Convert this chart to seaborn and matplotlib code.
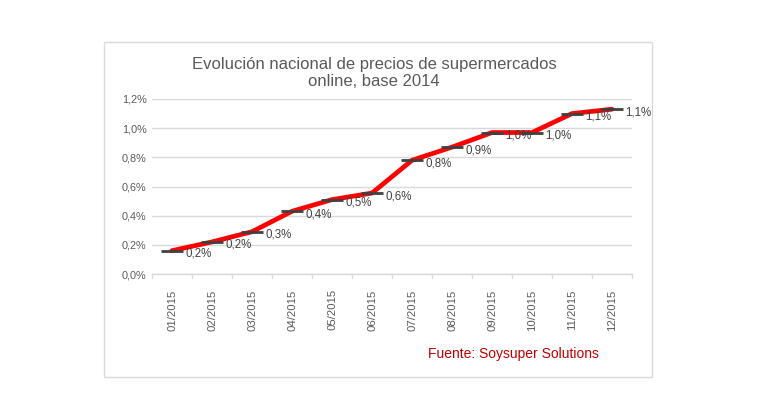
import matplotlib
matplotlib.use("Agg")
import matplotlib.pyplot as plt
import seaborn as sns
import pandas as pd
from matplotlib.patches import Rectangle

months = ["01/2015", "02/2015", "03/2015", "04/2015", "05/2015", "06/2015",
          "07/2015", "08/2015", "09/2015", "10/2015", "11/2015", "12/2015"]
values = [0.16, 0.22, 0.29, 0.43, 0.51, 0.555, 0.78, 0.87, 0.97, 0.97, 1.10, 1.13]
labels = ["0,2%", "0,2%", "0,3%", "0,4%", "0,5%", "0,6%",
          "0,8%", "0,9%", "1,0%", "1,0%", "1,1%", "1,1%"]
yticks = [0.0, 0.2, 0.4, 0.6, 0.8, 1.0, 1.2]
ytick_labels = ["0,0%", "0,2%", "0,4%", "0,6%", "0,8%", "1,0%", "1,2%"]

df = pd.DataFrame({"mes": months, "valor": values, "pos": range(len(months))})

sns.set_theme(style="white")
plt.rcParams["font.family"] = ["Liberation Sans", "DejaVu Sans"]

W, H = 770, 407
fig = plt.figure(figsize=(W / 100, H / 100), dpi=100)
fig.patch.set_facecolor("white")

# chart frame
fig.add_artist(Rectangle((104 / W, 1 - 377 / H), (652 - 104) / W, (377 - 42) / H,
                         transform=fig.transFigure, fill=False, edgecolor="#D9D9D9", lw=1))

ax = fig.add_axes([152 / W, 1 - 274 / H, (632 - 152) / W, (274 - 99) / H])
ax.set_facecolor("white")

sns.lineplot(data=df, x="pos", y="valor", ax=ax, color="#FF0000", lw=3.4, zorder=3)
sns.scatterplot(data=df, x="pos", y="valor", ax=ax, marker="_", s=230,
                color="#404040", linewidth=2, zorder=4)

for i, (v, lab) in enumerate(zip(values, labels)):
    ax.annotate(lab, (i, v), xytext=(13, -3), textcoords="offset pixels",
                ha="left", va="center", fontsize=8.3, color="#404040", zorder=5)

ax.set_xlim(-0.5, len(months) - 0.5)
ax.set_ylim(0, 1.2)
ax.set_yticks(yticks)
ax.set_yticklabels(ytick_labels)
ax.set_xticks(range(len(months)))
ax.set_xticklabels(months, rotation=90)
ax.tick_params(axis="y", length=0, labelsize=7.8, labelcolor="#595959", pad=4)
ax.tick_params(axis="x", length=0, labelsize=8.2, labelcolor="#595959", pad=11)
ax.yaxis.grid(True, color="#D9D9D9", lw=1)
ax.set_axisbelow(True)
for s in ["top", "right", "left"]:
    ax.spines[s].set_visible(False)
ax.spines["bottom"].set_color("#D9D9D9")
ax.spines["bottom"].set_linewidth(1)
# boundary tick marks
for b in [i - 0.5 for i in range(len(months) + 1)]:
    ax.plot([b, b], [0, -0.025], color="#D9D9D9", lw=1, clip_on=False)
ax.set_xlabel("")
ax.set_ylabel("")

fig.text(374 / W, 1 - 73 / H, "Evolución nacional de precios de supermercados\nonline, base 2014",
         ha="center", va="center", fontsize=12, color="#595959", linespacing=1.25)
fig.text(428 / W, 1 - 354 / H, "Fuente: Soysuper Solutions",
         ha="left", va="center", fontsize=10, color="#C00000")

fig.savefig("out.png", dpi=100, facecolor="white")
